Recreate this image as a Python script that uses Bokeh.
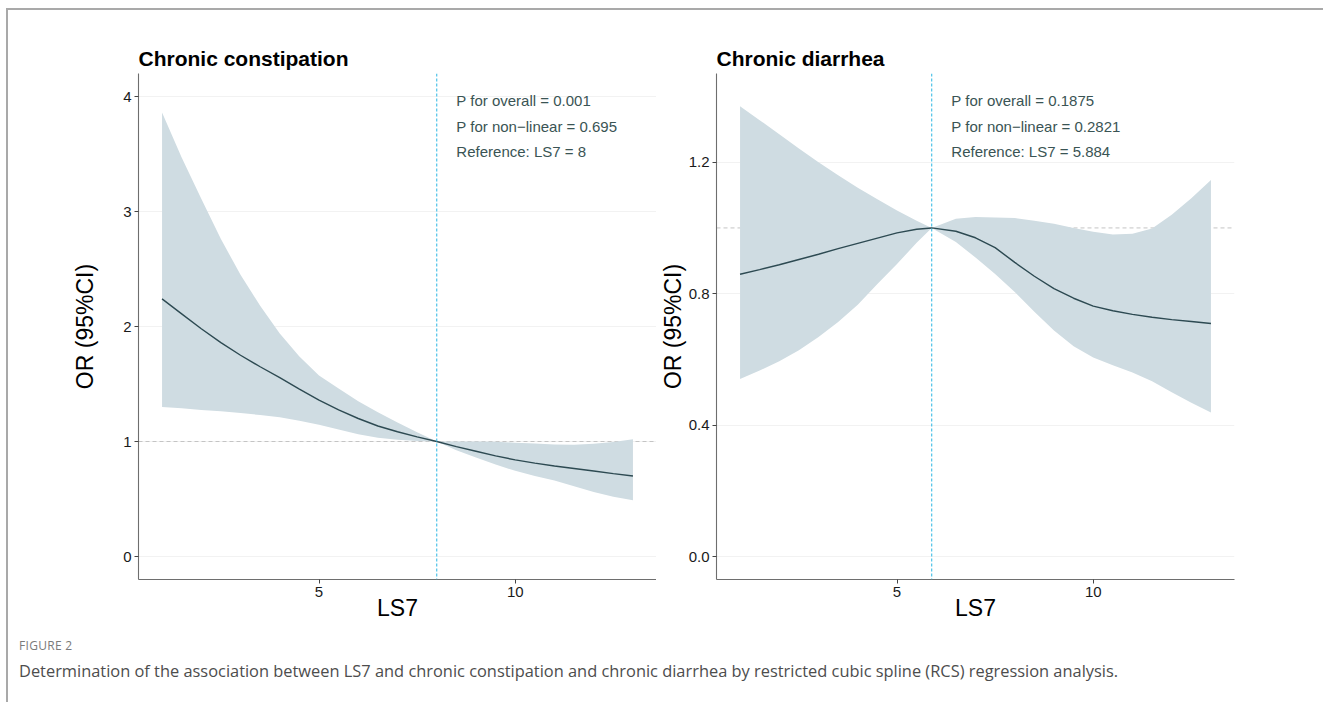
from bokeh.plotting import figure
from bokeh.models import Range1d, Span, Label, FixedTicker, NumeralTickFormatter, Div
from bokeh.layouts import row, column
from bokeh.embed import file_html
from bokeh.resources import INLINE

# ---------------- data ----------------
# Chronic constipation
cons_ls7 = [1, 1.5, 2, 2.5, 3, 3.5, 4, 4.5, 5, 5.5, 6, 6.5, 7, 7.5, 8,
            8.5, 9, 9.5, 10, 10.5, 11, 11.5, 12, 12.5, 13]
cons_or = [2.24, 2.11, 1.98, 1.86, 1.75, 1.65, 1.555, 1.455, 1.36, 1.275, 1.20, 1.135, 1.085, 1.04, 1.0,
           0.955, 0.915, 0.875, 0.84, 0.812, 0.787, 0.765, 0.743, 0.721, 0.70]
cons_upper = [3.86, 3.47, 3.11, 2.76, 2.45, 2.18, 1.94, 1.74, 1.575, 1.46, 1.35, 1.255, 1.165, 1.08, 1.0,
              1.0, 1.0, 0.998, 0.99, 0.982, 0.975, 0.972, 0.98, 0.995, 1.02]
cons_lower = [1.30, 1.29, 1.275, 1.262, 1.248, 1.23, 1.21, 1.18, 1.145, 1.105, 1.063, 1.033, 1.015, 1.005, 1.0,
              0.925, 0.86, 0.80, 0.745, 0.70, 0.66, 0.61, 0.56, 0.52, 0.49]
cons_ref = 8
cons_texts = ["P for overall = 0.001", "P for non\u2212linear = 0.695", "Reference: LS7 = 8"]
cons_yticks = [0, 1, 2, 3, 4]

# Chronic diarrhea
diar_ls7 = [1, 1.5, 2, 2.5, 3, 3.5, 4, 4.5, 5, 5.5, 5.884, 6.5, 7, 7.5, 8,
            8.5, 9, 9.5, 10, 10.5, 11, 11.5, 12, 12.5, 13]
diar_or = [0.859, 0.873, 0.888, 0.904, 0.92, 0.937, 0.953, 0.969, 0.985, 0.996, 1.0, 0.99, 0.97, 0.94, 0.895,
           0.853, 0.815, 0.786, 0.762, 0.748, 0.737, 0.728, 0.721, 0.715, 0.709]
diar_upper = [1.37, 1.328, 1.285, 1.242, 1.2, 1.16, 1.122, 1.087, 1.053, 1.022, 1.0, 1.028, 1.033, 1.032, 1.03,
              1.022, 1.013, 1.0, 0.988, 0.98, 0.982, 0.998, 1.04, 1.09, 1.146]
diar_lower = [0.54, 0.566, 0.594, 0.628, 0.668, 0.714, 0.766, 0.829, 0.89, 0.955, 1.0, 0.957, 0.91, 0.86, 0.805,
              0.745, 0.688, 0.64, 0.606, 0.582, 0.56, 0.533, 0.50, 0.468, 0.438]
diar_ref = 5.884
diar_texts = ["P for overall = 0.1875", "P for non\u2212linear = 0.2821", "Reference: LS7 = 5.884"]
diar_yticks = [0.0, 0.4, 0.8, 1.2]

x_ticks = [5, 10]
ref_or = 1

FONT = "Liberation Sans"
FRAME_W, FRAME_H = 518, 506


def make_panel(title, xs, ys, lo, hi, ref_x, y_start, y_end, yticks, fmt, texts,
               border_left, border_right, label_standoff):
    p = figure(frame_width=FRAME_W, frame_height=FRAME_H,
               x_range=Range1d(0.4, 13.6), y_range=Range1d(y_start, y_end),
               output_backend="svg", toolbar_location=None,
               min_border_left=border_left, min_border_right=border_right,
               min_border_top=63, min_border_bottom=50,
               background_fill_color="white", border_fill_color="white")
    p.outline_line_color = None
    p.title.text = title
    p.title.text_font = FONT
    p.title.text_font_size = "21px"
    p.title.text_font_style = "bold"
    p.title.text_color = "black"
    p.title.align = "left"
    p.title.standoff = 8

    p.xgrid.grid_line_color = None
    p.ygrid.grid_line_color = "#f2f2f2"
    p.ygrid.grid_line_width = 1.2

    for ax in (p.xaxis[0], p.yaxis[0]):
        ax.axis_line_color = "#6e6e6e"
        ax.axis_line_width = 1.1
        ax.major_tick_line_color = "#444444"
        ax.major_tick_out = 4
        ax.major_tick_in = 0
        ax.minor_tick_line_color = None
        ax.major_label_text_font = FONT
        ax.major_label_text_font_size = "15px"
        ax.major_label_text_color = "#1a1a1a"
        ax.major_label_standoff = 3
        ax.axis_label_text_font = FONT
        ax.axis_label_text_font_size = "23px"
        ax.axis_label_text_font_style = "normal"
        ax.axis_label_text_color = "black"

    p.xaxis.ticker = FixedTicker(ticks=x_ticks)
    p.yaxis.ticker = FixedTicker(ticks=yticks)
    p.yaxis.formatter = NumeralTickFormatter(format=fmt)
    p.xaxis.axis_label = "LS7"
    p.yaxis.axis_label = "OR (95%CI)"
    p.xaxis.axis_label_standoff = -5
    p.yaxis.axis_label_standoff = label_standoff

    p.add_layout(Span(location=ref_or, dimension="width", line_color="#c4c4c4",
                      line_dash="4 3", line_width=1, level="underlay"))
    p.varea(x=xs, y1=lo, y2=hi, fill_color="#cfdce2", fill_alpha=1.0)
    p.line(x=xs, y=ys, line_color="#2d4a52", line_width=1.4)
    p.add_layout(Span(location=ref_x, dimension="height", line_color="#3dbde6",
                      line_dash="3 2", line_width=1.1))

    span = y_end - y_start
    for i, t in enumerate(texts):
        ypix = 27 + 25.5 * i  # pixels below the frame top
        p.add_layout(Label(x=ref_x + 0.5, y=y_end - ypix / FRAME_H * span, text=t,
                           text_font=FONT, text_font_size="15px", text_color="#3a5454",
                           text_align="left", text_baseline="middle"))
    return p


p1 = make_panel("Chronic constipation", cons_ls7, cons_or, cons_lower, cons_upper, cons_ref,
                -0.2, 4.2, cons_yticks, "0", cons_texts, 130, 0, 22)
p2 = make_panel("Chronic diarrhea", diar_ls7, diar_or, diar_lower, diar_upper, diar_ref,
                -0.07, 1.47, diar_yticks, "0.0", diar_texts, 56, 30, 0)

caption = Div(
    text=("<div style='font-family:\"Open Sans\";font-size:12px;color:#7a7a7a;letter-spacing:0.3px;"
          "margin:0 0 5px 0;'>FIGURE 2</div>"
          "<div style='font-family:\"Open Sans\";font-size:16.4px;color:#4d4d4d;'>"
          "Determination of the association between LS7 and chronic constipation and chronic diarrhea "
          "by restricted cubic spline (RCS) regression analysis.</div>"),
    width=1290, height=62,
    styles={"margin-left": "11px", "margin-top": "8px"},
)

layout = column(row(p1, p2), caption,
                styles={"border-top": "2px solid #a9a9a9", "border-left": "2px solid #a9a9a9",
                        "margin-left": "6px", "margin-top": "8px",
                        "width": "1317px", "height": "694px", "background-color": "white"})

open("out.html", "w").write(file_html(layout, INLINE))
